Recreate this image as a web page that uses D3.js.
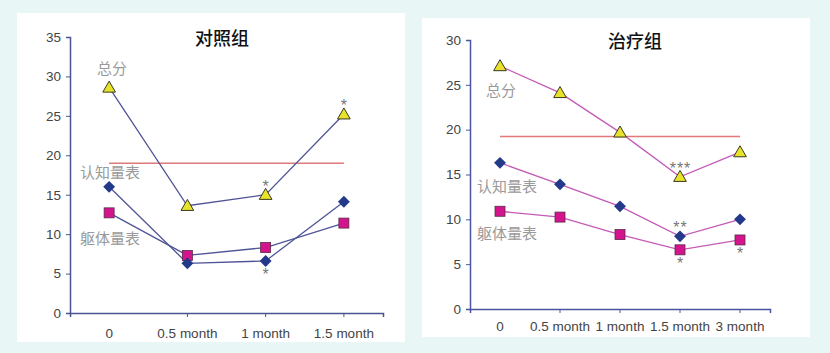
<!DOCTYPE html>
<html>
<head>
<meta charset="utf-8">
<script src="https://cdn.jsdelivr.net/npm/d3@7/dist/d3.min.js"></script>
<style>
    body { margin: 0; background: #e8f6f6; }
    svg text { font-family: "Liberation Sans", Arial, sans-serif; }
    .tick-label { fill: #444; font-size: 13.5px; }
    .series-label { fill: #9a9a9a; font-size: 15px; font-family: "Noto Sans CJK SC", sans-serif; }
    .title { fill: #111; font-size: 18px; font-family: "Noto Sans CJK SC", sans-serif; font-weight: 500; }
    .star { fill: #777; font-size: 16px; letter-spacing: 1px; }
</style>
</head>
<body>
<svg id="chart" width="830" height="353"></svg>
<script>
// control group
var ctrlCats = ["0", "0.5 month", "1 month", "1.5 month"];
var ctrlTotal = [28.6, 13.6, 15.0, 25.2];
var ctrlCog = [16.0, 6.3, 6.6, 14.1];
var ctrlBody = [12.7, 7.3, 8.3, 11.4];
var ctrlRef = 19.0;
var ctrlTicks = [0, 5, 10, 15, 20, 25, 30, 35];
var ctrlStars = [{ s: "total", i: 2, t: "*", pos: "above" }, { s: "total", i: 3, t: "*", pos: "above" }, { s: "cog", i: 2, t: "*", pos: "below" }];

// treatment group
var treatCats = ["0", "0.5 month", "1 month", "1.5 month", "3 month"];
var treatTotal = [27.1, 24.1, 19.7, 14.75, 17.5];
var treatCog = [16.3, 13.9, 11.45, 8.1, 10.0];
var treatBody = [10.9, 10.25, 8.3, 6.6, 7.7];
var treatRef = 19.25;
var treatTicks = [0, 5, 10, 15, 20, 25, 30];
var treatStars = [{ s: "total", i: 3, t: "***", pos: "above" }, { s: "cog", i: 3, t: "**", pos: "above" }, { s: "body", i: 3, t: "*", pos: "below" }, { s: "body", i: 4, t: "*", pos: "below" }];

var seriesNames = ["总分", "认知量表", "躯体量表"];

var svg = d3.select("#chart");

function drawPanel(p) {
    svg.append("rect")
        .attr("x", p.box[0]).attr("y", p.box[1])
        .attr("width", p.box[2]).attr("height", p.box[3])
        .attr("fill", "#fff");

    var x = d3.scaleBand().domain(p.cats).range([p.x0, p.x1]);
    var cx = function (i) { return x(p.cats[i]) + x.bandwidth() / 2; };
    var y = d3.scaleLinear().domain([0, p.ticks[p.ticks.length - 1]]).range([p.y0, p.y1]);

    var g = svg.append("g");

    // y axis
    var ya = g.append("g").attr("transform", "translate(" + p.x0 + ",0)")
        .call(d3.axisLeft(y).tickValues(p.ticks).tickSize(4).tickPadding(5));
    ya.select(".domain").attr("stroke", p.axisColor).attr("stroke-width", 1.5);
    ya.selectAll(".tick line").attr("stroke", p.axisColor);
    ya.selectAll(".tick text").attr("class", "tick-label").attr("font-size", null).attr("font-family", null);

    // x axis
    var xa = g.append("g").attr("transform", "translate(0," + p.y0 + ")")
        .call(d3.axisBottom(x).tickSizeOuter(0).tickSize(4).tickPadding(p.xPad));
    xa.select(".domain").attr("stroke", p.axisColor).attr("stroke-width", 1.5);
    xa.selectAll(".tick line").attr("stroke", p.axisColor)
        .attr("opacity", function (d, i) { return i === 0 ? 0 : 1; });
    xa.selectAll(".tick text").attr("class", "tick-label").attr("font-size", null).attr("font-family", null);

    // reference line
    g.append("line")
        .attr("x1", cx(0)).attr("x2", cx(p.cats.length - 1))
        .attr("y1", y(p.ref)).attr("y2", y(p.ref))
        .attr("stroke", "#e07a7a").attr("stroke-width", 1.5);

    var line = d3.line().x(function (d, i) { return cx(i); }).y(function (d) { return y(d); });
    var series = { total: p.total, cog: p.cog, body: p.body };
    ["total", "cog", "body"].forEach(function (k) {
        g.append("path").attr("d", line(series[k]))
            .attr("fill", "none").attr("stroke", p.lineColor).attr("stroke-width", 1.3);
    });

    // markers
    g.selectAll(".sq").data(p.body).enter().append("rect")
        .attr("x", function (d, i) { return cx(i) - 5; })
        .attr("y", function (d) { return y(d) - 5; })
        .attr("width", 10).attr("height", 10)
        .attr("fill", "#d4148c").attr("stroke", "#5a2a4a").attr("stroke-width", 0.8);
    g.selectAll(".dia").data(p.cog).enter().append("path")
        .attr("d", d3.symbol().type(d3.symbolDiamond2).size(90))
        .attr("transform", function (d, i) { return "translate(" + cx(i) + "," + y(d) + ")"; })
        .attr("fill", "#23398a");
    g.selectAll(".tri").data(p.total).enter().append("path")
        .attr("d", d3.symbol().type(d3.symbolTriangle).size(70))
        .attr("transform", function (d, i) { return "translate(" + cx(i) + "," + (y(d) + 1) + ")"; })
        .attr("fill", "#e8e22a").attr("stroke", "#3a3a20").attr("stroke-width", 1);

    // significance stars
    p.stars.forEach(function (st) {
        var v = series[st.s][st.i];
        g.append("text").attr("class", "star")
            .attr("x", cx(st.i) + 0.5).attr("y", st.pos === "above" ? y(v) - 3 : y(v) + 19)
            .attr("text-anchor", "middle").text(st.t);
    });

    // series labels
    seriesNames.forEach(function (n, i) {
        g.append("text").attr("class", "series-label")
            .attr("x", p.labelPos[i][0]).attr("y", p.labelPos[i][1])
            .attr("dy", "0.35em").text(n);
    });

    svg.append("text").attr("class", "title")
        .attr("x", p.titlePos[0]).attr("y", p.titlePos[1])
        .attr("text-anchor", "middle").attr("dy", "0.35em").text(p.title);
}

drawPanel({
    box: [17, 13, 388, 329], x0: 70, x1: 383, y0: 313, y1: 37, xPad: 11,
    cats: ctrlCats, total: ctrlTotal, cog: ctrlCog, body: ctrlBody, ref: ctrlRef,
    ticks: ctrlTicks, stars: ctrlStars, axisColor: "#4a5590", lineColor: "#4f5596",
    labelPos: [[97, 69], [80, 173], [80, 239]], title: "对照组", titlePos: [222, 39]
});

drawPanel({
    box: [422, 18, 388, 319], x0: 470, x1: 770, y0: 309, y1: 40, xPad: 8,
    cats: treatCats, total: treatTotal, cog: treatCog, body: treatBody, ref: treatRef,
    ticks: treatTicks, stars: treatStars, axisColor: "#4a55a0", lineColor: "#c45ab8",
    labelPos: [[486, 91], [477, 187], [477, 234]], title: "治疗组", titlePos: [635, 42]
});
</script>
</body>
</html>
